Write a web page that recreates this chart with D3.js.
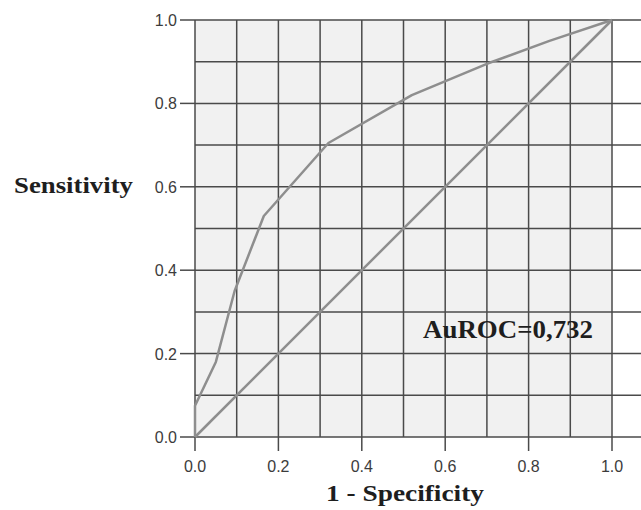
<!DOCTYPE html>
<html lang="en">
<head>
<meta charset="UTF-8">
<title>ROC</title>
<style>
body{margin:0;background:#fff;}
.tick-label{font-family:"Liberation Sans",Arial,sans-serif;font-size:16px;fill:#3c3c3c;}
.big{font-family:"Liberation Serif","Times New Roman",serif;font-weight:bold;fill:#1e1e1e;}
</style>
</head>
<body>
<script src="https://d3js.org/d3.v7.min.js"></script>
<script>
// ROC curve points (1 - specificity, sensitivity)
var rocX = [0, 0, 0.05, 0.095, 0.165, 0.32, 0.52, 0.70, 0.85, 1.0];
var rocY = [0, 0.075, 0.18, 0.35, 0.53, 0.705, 0.82, 0.895, 0.95, 1.0];
var refX = [0, 1];
var refY = [0, 1];
var gridVals = [0, 0.1, 0.2, 0.3, 0.4, 0.5, 0.6, 0.7, 0.8, 0.9, 1.0];
var tickVals = [0, 0.2, 0.4, 0.6, 0.8, 1.0];
var tickLabels = ["0.0", "0.2", "0.4", "0.6", "0.8", "1.0"];

var W = 641, H = 510;
var pad = {left: 195, right: 612, top: 20, bottom: 437};

var svg = d3.select("body").append("svg").attr("width", W).attr("height", H);

var x = d3.scaleLinear().domain([0, 1]).range([pad.left, pad.right]);
var y = d3.scaleLinear().domain([0, 1]).range([pad.bottom, pad.top]);

// plot background
svg.append("rect").attr("x", x(0)).attr("y", y(1))
   .attr("width", x(1) - x(0)).attr("height", y(0) - y(1))
   .attr("fill", "#f1f1f1");

var gridColor = "#4a4a4a", gw = 1.5;
// horizontal grid, runs to right edge
svg.selectAll(".hg").data(gridVals).enter().append("line")
   .attr("x1", x(0)).attr("x2", W)
   .attr("y1", function(d){return y(d);}).attr("y2", function(d){return y(d);})
   .attr("stroke", gridColor).attr("stroke-width", gw);
// vertical grid
svg.selectAll(".vg").data(gridVals).enter().append("line")
   .attr("y1", y(1)).attr("y2", y(0))
   .attr("x1", function(d){return x(d);}).attr("x2", function(d){return x(d);})
   .attr("stroke", gridColor).attr("stroke-width", gw);

// y ticks
svg.selectAll(".yt").data(tickVals).enter().append("line")
   .attr("x1", x(0) - 15).attr("x2", x(0))
   .attr("y1", function(d){return y(d);}).attr("y2", function(d){return y(d);})
   .attr("stroke", gridColor).attr("stroke-width", gw);
svg.selectAll(".ytl").data(tickVals).enter().append("text")
   .attr("class", "tick-label")
   .attr("x", x(0) - 18).attr("y", function(d){return y(d) + 6;})
   .attr("text-anchor", "end")
   .text(function(d, i){return tickLabels[i];});

// x ticks
svg.selectAll(".xt").data(tickVals).enter().append("line")
   .attr("y1", y(0)).attr("y2", y(0) + 14)
   .attr("x1", function(d){return x(d);}).attr("x2", function(d){return x(d);})
   .attr("stroke", gridColor).attr("stroke-width", gw);
svg.selectAll(".xtl").data(tickVals).enter().append("text")
   .attr("class", "tick-label")
   .attr("x", function(d){return x(d);}).attr("y", y(0) + 35)
   .attr("text-anchor", "middle")
   .text(function(d, i){return tickLabels[i];});

var line = d3.line().x(function(d){return x(d[0]);}).y(function(d){return y(d[1]);});

svg.append("path").datum(d3.zip(refX, refY)).attr("d", line)
   .attr("fill", "none").attr("stroke", "#8e8e8e").attr("stroke-width", 2.5);
svg.append("path").datum(d3.zip(rocX, rocY)).attr("d", line)
   .attr("fill", "none").attr("stroke", "#8e8e8e").attr("stroke-width", 2.5)
   .attr("stroke-linejoin", "round");

// titles
svg.append("text").attr("class", "big").attr("x", 14).attr("y", 193)
   .style("font-size", "23px").attr("textLength", 119).attr("lengthAdjust", "spacingAndGlyphs")
   .text("Sensitivity");
svg.append("text").attr("class", "big").attr("x", 326).attr("y", 501)
   .style("font-size", "24px").attr("textLength", 158).attr("lengthAdjust", "spacingAndGlyphs")
   .text("1 - Specificity");
svg.append("text").attr("class", "big").attr("x", 423).attr("y", 338)
   .style("font-size", "25px").attr("textLength", 170).attr("lengthAdjust", "spacingAndGlyphs")
   .text("AuROC=0,732");
</script>
</body>
</html>
